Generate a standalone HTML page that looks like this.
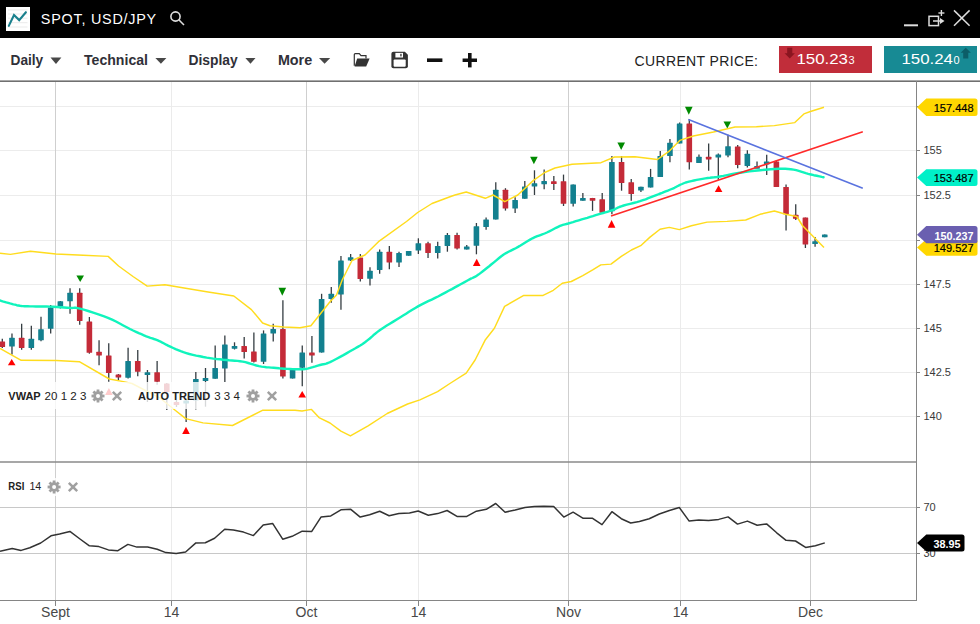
<!DOCTYPE html>
<html><head><meta charset="utf-8">
<style>
*{margin:0;padding:0;box-sizing:border-box}
html,body{width:980px;height:624px;overflow:hidden;background:#fff;font-family:"Liberation Sans",sans-serif}
#hdr{position:absolute;left:0;top:0;width:980px;height:38px;background:#000}
#tb{position:absolute;left:0;top:38px;width:980px;height:42px;background:#fff}
#tbline{position:absolute;left:0;top:80px;width:980px;height:2px;background:linear-gradient(#a8a8a8 0,#a8a8a8 50%,#707070 50%,#707070 100%)}
.t{position:absolute;white-space:nowrap}
svg{position:absolute;left:0;top:0}
</style></head><body>
<div id="hdr"></div>
<div id="tb"></div>
<div id="tbline"></div>
<svg width="980" height="624" viewBox="0 0 980 624" font-family="'Liberation Sans', sans-serif">
<!-- header -->
<rect x="6" y="7" width="24" height="24" fill="#fff"/>
<g stroke="#ebebeb" stroke-width="1"><line x1="8" y1="10" x2="27.5" y2="10"/><line x1="8" y1="14" x2="27.5" y2="14"/><line x1="8" y1="18.2" x2="27.5" y2="18.2"/><line x1="8" y1="22.7" x2="27.5" y2="22.7"/><line x1="8" y1="27" x2="27.5" y2="27"/></g>
<polyline points="8.8,25.9 14,15 19.2,20.1 25.9,12.2" fill="none" stroke="#1a808d" stroke-width="2.1" stroke-linecap="round"/>
<text x="40.8" y="24" font-size="14.4" fill="#fff" textLength="115.4" lengthAdjust="spacing">SPOT, USD/JPY</text>
<g stroke="#ddd" fill="none" stroke-width="1.6"><circle cx="175.5" cy="16.5" r="4.6"/><line x1="178.8" y1="19.8" x2="184" y2="25"/></g>
<g stroke="#ddd" fill="none"><line x1="904" y1="25.3" x2="918" y2="25.3" stroke-width="2"/>
<rect x="929" y="16.3" width="9.5" height="9.3" stroke-width="1.5"/><line x1="933" y1="21" x2="942" y2="21" stroke-width="1.5"/>
<line x1="941.4" y1="10" x2="941.4" y2="16" stroke-width="1.4"/><line x1="938.4" y1="13" x2="944.4" y2="13" stroke-width="1.4"/>
<line x1="954" y1="10.4" x2="969.6" y2="25.8" stroke-width="1.5"/><line x1="969.6" y1="10.4" x2="954" y2="25.8" stroke-width="1.5"/></g>
<polygon points="940,18 944.5,21 940,24" fill="#ddd"/>
<!-- toolbar -->
<g font-size="14" font-weight="bold" fill="#303038">
<text x="10.5" y="64.7" textLength="32.7" lengthAdjust="spacingAndGlyphs">Daily</text><text x="84" y="64.7" textLength="64" lengthAdjust="spacingAndGlyphs">Technical</text><text x="188.5" y="64.7" textLength="49.2" lengthAdjust="spacingAndGlyphs">Display</text><text x="277.9" y="64.7" textLength="34.3" lengthAdjust="spacingAndGlyphs">More</text></g>
<g fill="#484848"><polygon points="50.5,57.6 61.4,57.6 55.95,64"/><polygon points="155.4,58 166.4,58 160.9,63.7"/><polygon points="245.4,58 255.5,58 250.45,63.7"/><polygon points="319,58 330.2,58 324.6,63.7"/></g>
<path d="M354.3,65.8 L354.3,54.6 Q354.3,53.6 355.3,53.6 L359.3,53.6 L361,55.6 L366,55.6 L366,58.4" fill="none" stroke="#333" stroke-width="1.2"/>
<polygon points="357.2,58.6 369.6,58.6 366.2,66.4 354.6,66.4" fill="#333"/>
<path d="M393.4,51.8 L404.9,51.8 L407.9,54.8 L407.9,66.2 Q407.9,68.2 405.9,68.2 L393.4,68.2 Q391.4,68.2 391.4,66.2 L391.4,53.8 Q391.4,51.8 393.4,51.8 Z" fill="#333"/>
<rect x="395.4" y="52.9" width="7.6" height="4.6" fill="#fff"/><rect x="400.3" y="53.8" width="1.3" height="2.6" fill="#333"/>
<rect x="393.6" y="59.6" width="12.1" height="7.2" rx="1" fill="#fff"/>

<rect x="427" y="58.4" width="15.4" height="3.6" fill="#111"/>
<rect x="462.6" y="58.5" width="14.4" height="3.5" fill="#111"/><rect x="468" y="53" width="3.6" height="14.4" fill="#111"/>
<text x="634.5" y="66" font-size="14" fill="#222" textLength="123.5" lengthAdjust="spacing">CURRENT PRICE:</text>
<rect x="779" y="46" width="93" height="27" fill="#c12d3a"/>
<polygon points="787.2,47.7 792.3,47.7 792.3,53.3 794.9,53.3 789.75,58.4 784.6,53.3 787.2,53.3" fill="#8b1520"/>
<text x="796.4" y="64" font-size="15" fill="#fff" textLength="51.6" lengthAdjust="spacingAndGlyphs">150.23</text><text x="848.5" y="64" font-size="10" fill="#fff" textLength="6.1" lengthAdjust="spacingAndGlyphs">3</text>
<rect x="884" y="46" width="93" height="27" fill="#178a94"/>
<polygon points="963.2,58.4 968.3,58.4 968.3,52.8 970.9,52.8 965.75,47.7 960.6,52.8 963.2,52.8" fill="#0c5e68"/>
<text x="901.4" y="64" font-size="15" fill="#fff" textLength="51.6" lengthAdjust="spacingAndGlyphs">150.24</text><text x="953.5" y="64" font-size="10" fill="#fff" textLength="6.1" lengthAdjust="spacingAndGlyphs">0</text>
<line x1="0" y1="106.5" x2="916" y2="106.5" stroke="#ececec" stroke-width="1"/>
<line x1="0" y1="150.5" x2="916" y2="150.5" stroke="#ececec" stroke-width="1"/>
<line x1="0" y1="195.5" x2="916" y2="195.5" stroke="#ececec" stroke-width="1"/>
<line x1="0" y1="240.5" x2="916" y2="240.5" stroke="#ececec" stroke-width="1"/>
<line x1="0" y1="284.5" x2="916" y2="284.5" stroke="#ececec" stroke-width="1"/>
<line x1="0" y1="328.5" x2="916" y2="328.5" stroke="#ececec" stroke-width="1"/>
<line x1="0" y1="372.5" x2="916" y2="372.5" stroke="#ececec" stroke-width="1"/>
<line x1="0" y1="416.5" x2="916" y2="416.5" stroke="#ececec" stroke-width="1"/>
<line x1="55.5" y1="82" x2="55.5" y2="600" stroke="#cfcfcf" stroke-width="1"/>
<line x1="171.5" y1="82" x2="171.5" y2="600" stroke="#ebebeb" stroke-width="1"/>
<line x1="306.5" y1="82" x2="306.5" y2="600" stroke="#cfcfcf" stroke-width="1"/>
<line x1="418.5" y1="82" x2="418.5" y2="600" stroke="#ebebeb" stroke-width="1"/>
<line x1="568.5" y1="82" x2="568.5" y2="600" stroke="#cfcfcf" stroke-width="1"/>
<line x1="680.5" y1="82" x2="680.5" y2="600" stroke="#ebebeb" stroke-width="1"/>
<line x1="810.5" y1="82" x2="810.5" y2="600" stroke="#cfcfcf" stroke-width="1"/>
<line x1="0" y1="507.5" x2="916" y2="507.5" stroke="#c8c8c8" stroke-width="1"/>
<line x1="0" y1="553.5" x2="916" y2="553.5" stroke="#c8c8c8" stroke-width="1"/>
<line x1="2.30" y1="338.8" x2="2.30" y2="348.0" stroke="#353d42" stroke-width="1.3"/>
<rect x="-0.50" y="341.5" width="5.6" height="5.5" rx="0.5" fill="#c42b38"/>
<line x1="11.98" y1="333.5" x2="11.98" y2="354.6" stroke="#353d42" stroke-width="1.3"/>
<rect x="9.18" y="337.7" width="5.6" height="8.8" rx="0.5" fill="#13808f"/>
<line x1="21.65" y1="323.8" x2="21.65" y2="349.8" stroke="#353d42" stroke-width="1.3"/>
<rect x="18.85" y="337.7" width="5.6" height="10.2" rx="0.5" fill="#c42b38"/>
<line x1="31.33" y1="325.8" x2="31.33" y2="349.8" stroke="#353d42" stroke-width="1.3"/>
<rect x="28.53" y="338.8" width="5.6" height="9.1" rx="0.5" fill="#13808f"/>
<line x1="41.00" y1="316.7" x2="41.00" y2="341.2" stroke="#353d42" stroke-width="1.3"/>
<rect x="38.20" y="329.2" width="5.6" height="11.0" rx="0.5" fill="#13808f"/>
<line x1="50.68" y1="305.0" x2="50.68" y2="333.5" stroke="#353d42" stroke-width="1.3"/>
<rect x="47.88" y="307.5" width="5.6" height="21.2" rx="0.5" fill="#13808f"/>
<line x1="60.36" y1="301.0" x2="60.36" y2="308.5" stroke="#353d42" stroke-width="1.3"/>
<rect x="57.56" y="301.3" width="5.6" height="5.2" rx="0.5" fill="#13808f"/>
<line x1="70.03" y1="288.3" x2="70.03" y2="313.8" stroke="#353d42" stroke-width="1.3"/>
<rect x="67.23" y="292.7" width="5.6" height="8.5" rx="0.5" fill="#13808f"/>
<line x1="79.71" y1="288.3" x2="79.71" y2="324.8" stroke="#353d42" stroke-width="1.3"/>
<rect x="76.91" y="292.7" width="5.6" height="28.3" rx="0.5" fill="#c42b38"/>
<line x1="89.38" y1="317.0" x2="89.38" y2="353.7" stroke="#353d42" stroke-width="1.3"/>
<rect x="86.58" y="321.5" width="5.6" height="31.2" rx="0.5" fill="#c42b38"/>
<line x1="99.06" y1="340.2" x2="99.06" y2="365.2" stroke="#353d42" stroke-width="1.3"/>
<rect x="96.26" y="351.7" width="5.6" height="3.9" rx="0.5" fill="#c42b38"/>
<line x1="108.74" y1="343.3" x2="108.74" y2="381.8" stroke="#353d42" stroke-width="1.3"/>
<rect x="105.94" y="355.6" width="5.6" height="17.3" rx="0.5" fill="#c42b38"/>
<line x1="118.41" y1="374.0" x2="118.41" y2="380.0" stroke="#353d42" stroke-width="1.3"/>
<rect x="115.61" y="374.4" width="5.6" height="3.0" rx="0.5" fill="#c42b38"/>
<line x1="128.09" y1="347.8" x2="128.09" y2="378.5" stroke="#353d42" stroke-width="1.3"/>
<rect x="125.29" y="361.0" width="5.6" height="16.8" rx="0.5" fill="#13808f"/>
<line x1="137.76" y1="350.0" x2="137.76" y2="376.2" stroke="#353d42" stroke-width="1.3"/>
<rect x="134.96" y="361.0" width="5.6" height="10.7" rx="0.5" fill="#c42b38"/>
<line x1="147.44" y1="370.0" x2="147.44" y2="402.0" stroke="#353d42" stroke-width="1.3"/>
<rect x="144.64" y="372.2" width="5.6" height="2.9" rx="0.5" fill="#13808f"/>
<line x1="157.12" y1="361.0" x2="157.12" y2="384.8" stroke="#353d42" stroke-width="1.3"/>
<rect x="154.32" y="372.2" width="5.6" height="9.6" rx="0.5" fill="#c42b38"/>
<line x1="166.79" y1="383.0" x2="166.79" y2="410.0" stroke="#353d42" stroke-width="1.3"/>
<rect x="163.99" y="383.4" width="5.6" height="8.6" rx="0.5" fill="#c42b38"/>
<line x1="176.47" y1="400.0" x2="176.47" y2="407.0" stroke="#353d42" stroke-width="1.3"/>
<rect x="173.67" y="402.0" width="5.6" height="3.0" rx="0.5" fill="#c42b38"/>
<line x1="186.14" y1="398.0" x2="186.14" y2="422.0" stroke="#353d42" stroke-width="1.3"/>
<rect x="183.34" y="400.4" width="5.6" height="3.2" rx="0.5" fill="#13808f"/>
<line x1="195.82" y1="372.0" x2="195.82" y2="409.6" stroke="#353d42" stroke-width="1.3"/>
<rect x="193.02" y="379.0" width="5.6" height="21.4" rx="0.5" fill="#13808f"/>
<line x1="205.50" y1="368.0" x2="205.50" y2="406.7" stroke="#353d42" stroke-width="1.3"/>
<rect x="202.70" y="378.0" width="5.6" height="3.0" rx="0.5" fill="#13808f"/>
<line x1="215.17" y1="345.5" x2="215.17" y2="378.7" stroke="#353d42" stroke-width="1.3"/>
<rect x="212.37" y="367.9" width="5.6" height="10.8" rx="0.5" fill="#13808f"/>
<line x1="224.85" y1="335.6" x2="224.85" y2="382.0" stroke="#353d42" stroke-width="1.3"/>
<rect x="222.05" y="344.6" width="5.6" height="24.0" rx="0.5" fill="#13808f"/>
<line x1="234.52" y1="342.3" x2="234.52" y2="349.5" stroke="#353d42" stroke-width="1.3"/>
<rect x="231.72" y="345.9" width="5.6" height="2.9" rx="0.5" fill="#13808f"/>
<line x1="244.20" y1="337.0" x2="244.20" y2="358.6" stroke="#353d42" stroke-width="1.3"/>
<rect x="241.40" y="345.9" width="5.6" height="6.1" rx="0.5" fill="#c42b38"/>
<line x1="253.88" y1="332.6" x2="253.88" y2="362.5" stroke="#353d42" stroke-width="1.3"/>
<rect x="251.08" y="351.4" width="5.6" height="10.3" rx="0.5" fill="#c42b38"/>
<line x1="263.55" y1="330.4" x2="263.55" y2="364.0" stroke="#353d42" stroke-width="1.3"/>
<rect x="260.75" y="333.6" width="5.6" height="28.1" rx="0.5" fill="#13808f"/>
<line x1="273.23" y1="323.7" x2="273.23" y2="341.6" stroke="#353d42" stroke-width="1.3"/>
<rect x="270.43" y="328.9" width="5.6" height="4.5" rx="0.5" fill="#13808f"/>
<line x1="282.90" y1="300.2" x2="282.90" y2="378.6" stroke="#353d42" stroke-width="1.3"/>
<rect x="280.10" y="328.9" width="5.6" height="47.5" rx="0.5" fill="#c42b38"/>
<line x1="292.58" y1="368.0" x2="292.58" y2="378.5" stroke="#353d42" stroke-width="1.3"/>
<rect x="289.78" y="368.2" width="5.6" height="10.2" rx="0.5" fill="#13808f"/>
<line x1="302.26" y1="345.5" x2="302.26" y2="386.3" stroke="#353d42" stroke-width="1.3"/>
<rect x="299.46" y="352.4" width="5.6" height="15.4" rx="0.5" fill="#13808f"/>
<line x1="311.93" y1="336.0" x2="311.93" y2="362.8" stroke="#353d42" stroke-width="1.3"/>
<rect x="309.13" y="352.4" width="5.6" height="3.0" rx="0.5" fill="#c42b38"/>
<line x1="321.61" y1="293.8" x2="321.61" y2="352.6" stroke="#353d42" stroke-width="1.3"/>
<rect x="318.81" y="299.0" width="5.6" height="53.6" rx="0.5" fill="#13808f"/>
<line x1="331.28" y1="287.0" x2="331.28" y2="302.8" stroke="#353d42" stroke-width="1.3"/>
<rect x="328.48" y="293.8" width="5.6" height="5.2" rx="0.5" fill="#13808f"/>
<line x1="340.96" y1="255.9" x2="340.96" y2="309.7" stroke="#353d42" stroke-width="1.3"/>
<rect x="338.16" y="260.5" width="5.6" height="33.9" rx="0.5" fill="#13808f"/>
<line x1="350.64" y1="254.0" x2="350.64" y2="261.0" stroke="#353d42" stroke-width="1.3"/>
<rect x="347.84" y="257.2" width="5.6" height="3.3" rx="0.5" fill="#13808f"/>
<line x1="360.31" y1="254.0" x2="360.31" y2="281.5" stroke="#353d42" stroke-width="1.3"/>
<rect x="357.51" y="257.4" width="5.6" height="21.6" rx="0.5" fill="#c42b38"/>
<line x1="369.99" y1="267.2" x2="369.99" y2="285.5" stroke="#353d42" stroke-width="1.3"/>
<rect x="367.19" y="270.8" width="5.6" height="7.9" rx="0.5" fill="#13808f"/>
<line x1="379.66" y1="249.5" x2="379.66" y2="273.7" stroke="#353d42" stroke-width="1.3"/>
<rect x="376.86" y="251.7" width="5.6" height="18.3" rx="0.5" fill="#13808f"/>
<line x1="389.34" y1="246.0" x2="389.34" y2="269.2" stroke="#353d42" stroke-width="1.3"/>
<rect x="386.54" y="251.7" width="5.6" height="10.8" rx="0.5" fill="#c42b38"/>
<line x1="399.02" y1="251.7" x2="399.02" y2="267.0" stroke="#353d42" stroke-width="1.3"/>
<rect x="396.22" y="252.9" width="5.6" height="9.6" rx="0.5" fill="#13808f"/>
<line x1="408.69" y1="250.9" x2="408.69" y2="255.8" stroke="#353d42" stroke-width="1.3"/>
<rect x="405.89" y="250.9" width="5.6" height="4.9" rx="0.5" fill="#13808f"/>
<line x1="418.37" y1="238.3" x2="418.37" y2="254.0" stroke="#353d42" stroke-width="1.3"/>
<rect x="415.57" y="243.2" width="5.6" height="7.4" rx="0.5" fill="#13808f"/>
<line x1="428.04" y1="241.7" x2="428.04" y2="258.0" stroke="#353d42" stroke-width="1.3"/>
<rect x="425.24" y="243.2" width="5.6" height="9.7" rx="0.5" fill="#c42b38"/>
<line x1="437.72" y1="241.7" x2="437.72" y2="258.5" stroke="#353d42" stroke-width="1.3"/>
<rect x="434.92" y="246.0" width="5.6" height="6.9" rx="0.5" fill="#13808f"/>
<line x1="447.40" y1="233.0" x2="447.40" y2="251.7" stroke="#353d42" stroke-width="1.3"/>
<rect x="444.60" y="235.0" width="5.6" height="11.0" rx="0.5" fill="#13808f"/>
<line x1="457.07" y1="232.7" x2="457.07" y2="249.5" stroke="#353d42" stroke-width="1.3"/>
<rect x="454.27" y="235.0" width="5.6" height="13.5" rx="0.5" fill="#c42b38"/>
<line x1="466.75" y1="245.0" x2="466.75" y2="249.4" stroke="#353d42" stroke-width="1.3"/>
<rect x="463.95" y="246.5" width="5.6" height="2.9" rx="0.5" fill="#13808f"/>
<line x1="476.42" y1="223.0" x2="476.42" y2="254.3" stroke="#353d42" stroke-width="1.3"/>
<rect x="473.62" y="226.3" width="5.6" height="19.5" rx="0.5" fill="#13808f"/>
<line x1="486.10" y1="217.4" x2="486.10" y2="229.7" stroke="#353d42" stroke-width="1.3"/>
<rect x="483.30" y="219.6" width="5.6" height="7.4" rx="0.5" fill="#13808f"/>
<line x1="495.78" y1="182.2" x2="495.78" y2="219.6" stroke="#353d42" stroke-width="1.3"/>
<rect x="492.98" y="189.8" width="5.6" height="29.8" rx="0.5" fill="#13808f"/>
<line x1="505.45" y1="188.2" x2="505.45" y2="210.6" stroke="#353d42" stroke-width="1.3"/>
<rect x="502.65" y="189.8" width="5.6" height="18.6" rx="0.5" fill="#c42b38"/>
<line x1="515.13" y1="197.2" x2="515.13" y2="212.9" stroke="#353d42" stroke-width="1.3"/>
<rect x="512.33" y="200.0" width="5.6" height="8.4" rx="0.5" fill="#13808f"/>
<line x1="524.80" y1="181.0" x2="524.80" y2="198.7" stroke="#353d42" stroke-width="1.3"/>
<rect x="522.00" y="186.6" width="5.6" height="12.1" rx="0.5" fill="#13808f"/>
<line x1="534.48" y1="170.3" x2="534.48" y2="195.0" stroke="#353d42" stroke-width="1.3"/>
<rect x="531.68" y="183.3" width="5.6" height="3.1" rx="0.5" fill="#13808f"/>
<line x1="544.16" y1="169.6" x2="544.16" y2="189.3" stroke="#353d42" stroke-width="1.3"/>
<rect x="541.36" y="181.0" width="5.6" height="3.2" rx="0.5" fill="#13808f"/>
<line x1="553.83" y1="176.0" x2="553.83" y2="190.0" stroke="#353d42" stroke-width="1.3"/>
<rect x="551.03" y="181.2" width="5.6" height="2.8" rx="0.5" fill="#c42b38"/>
<line x1="563.51" y1="174.6" x2="563.51" y2="206.0" stroke="#353d42" stroke-width="1.3"/>
<rect x="560.71" y="181.3" width="5.6" height="22.4" rx="0.5" fill="#c42b38"/>
<line x1="573.18" y1="184.4" x2="573.18" y2="206.4" stroke="#353d42" stroke-width="1.3"/>
<rect x="570.38" y="184.4" width="5.6" height="19.3" rx="0.5" fill="#13808f"/>
<line x1="582.86" y1="193.0" x2="582.86" y2="200.8" stroke="#353d42" stroke-width="1.3"/>
<rect x="580.06" y="197.9" width="5.6" height="2.9" rx="0.5" fill="#13808f"/>
<line x1="592.54" y1="197.9" x2="592.54" y2="210.9" stroke="#353d42" stroke-width="1.3"/>
<rect x="589.74" y="197.9" width="5.6" height="2.9" rx="0.5" fill="#c42b38"/>
<line x1="602.21" y1="193.0" x2="602.21" y2="212.7" stroke="#353d42" stroke-width="1.3"/>
<rect x="599.41" y="199.2" width="5.6" height="13.5" rx="0.5" fill="#c42b38"/>
<line x1="611.89" y1="156.0" x2="611.89" y2="214.3" stroke="#353d42" stroke-width="1.3"/>
<rect x="609.09" y="162.0" width="5.6" height="49.3" rx="0.5" fill="#13808f"/>
<line x1="621.56" y1="156.0" x2="621.56" y2="190.7" stroke="#353d42" stroke-width="1.3"/>
<rect x="618.76" y="162.0" width="5.6" height="20.9" rx="0.5" fill="#c42b38"/>
<line x1="631.24" y1="179.0" x2="631.24" y2="200.8" stroke="#353d42" stroke-width="1.3"/>
<rect x="628.44" y="182.2" width="5.6" height="11.8" rx="0.5" fill="#c42b38"/>
<line x1="640.92" y1="186.8" x2="640.92" y2="192.0" stroke="#353d42" stroke-width="1.3"/>
<rect x="638.12" y="186.8" width="5.6" height="3.7" rx="0.5" fill="#13808f"/>
<line x1="650.59" y1="168.9" x2="650.59" y2="187.5" stroke="#353d42" stroke-width="1.3"/>
<rect x="647.79" y="177.0" width="5.6" height="10.5" rx="0.5" fill="#13808f"/>
<line x1="660.27" y1="151.0" x2="660.27" y2="177.0" stroke="#353d42" stroke-width="1.3"/>
<rect x="657.47" y="156.0" width="5.6" height="21.0" rx="0.5" fill="#13808f"/>
<line x1="669.94" y1="138.9" x2="669.94" y2="162.2" stroke="#353d42" stroke-width="1.3"/>
<rect x="667.14" y="142.7" width="5.6" height="13.3" rx="0.5" fill="#13808f"/>
<line x1="679.62" y1="122.5" x2="679.62" y2="143.4" stroke="#353d42" stroke-width="1.3"/>
<rect x="676.82" y="123.6" width="5.6" height="19.8" rx="0.5" fill="#13808f"/>
<line x1="689.30" y1="119.0" x2="689.30" y2="169.6" stroke="#353d42" stroke-width="1.3"/>
<rect x="686.50" y="123.6" width="5.6" height="38.6" rx="0.5" fill="#c42b38"/>
<line x1="698.97" y1="154.6" x2="698.97" y2="162.9" stroke="#353d42" stroke-width="1.3"/>
<rect x="696.17" y="156.8" width="5.6" height="6.1" rx="0.5" fill="#13808f"/>
<line x1="708.65" y1="143.4" x2="708.65" y2="170.7" stroke="#353d42" stroke-width="1.3"/>
<rect x="705.85" y="156.8" width="5.6" height="2.8" rx="0.5" fill="#c42b38"/>
<line x1="718.32" y1="153.5" x2="718.32" y2="179.7" stroke="#353d42" stroke-width="1.3"/>
<rect x="715.52" y="154.6" width="5.6" height="2.8" rx="0.5" fill="#13808f"/>
<line x1="728.00" y1="134.8" x2="728.00" y2="157.3" stroke="#353d42" stroke-width="1.3"/>
<rect x="725.20" y="146.2" width="5.6" height="9.3" rx="0.5" fill="#13808f"/>
<line x1="737.68" y1="145.0" x2="737.68" y2="168.3" stroke="#353d42" stroke-width="1.3"/>
<rect x="734.88" y="146.5" width="5.6" height="18.4" rx="0.5" fill="#c42b38"/>
<line x1="747.35" y1="150.3" x2="747.35" y2="167.6" stroke="#353d42" stroke-width="1.3"/>
<rect x="744.55" y="153.7" width="5.6" height="12.3" rx="0.5" fill="#13808f"/>
<line x1="757.03" y1="161.5" x2="757.03" y2="168.3" stroke="#353d42" stroke-width="1.3"/>
<rect x="754.23" y="166.0" width="5.6" height="2.8" rx="0.5" fill="#13808f"/>
<line x1="766.70" y1="154.8" x2="766.70" y2="175.0" stroke="#353d42" stroke-width="1.3"/>
<rect x="763.90" y="161.5" width="5.6" height="2.9" rx="0.5" fill="#13808f"/>
<line x1="776.38" y1="160.4" x2="776.38" y2="186.9" stroke="#353d42" stroke-width="1.3"/>
<rect x="773.58" y="161.5" width="5.6" height="25.4" rx="0.5" fill="#c42b38"/>
<line x1="786.06" y1="184.6" x2="786.06" y2="230.4" stroke="#353d42" stroke-width="1.3"/>
<rect x="783.26" y="186.9" width="5.6" height="27.4" rx="0.5" fill="#c42b38"/>
<line x1="795.73" y1="204.2" x2="795.73" y2="219.9" stroke="#353d42" stroke-width="1.3"/>
<rect x="792.93" y="214.7" width="5.6" height="4.1" rx="0.5" fill="#c42b38"/>
<line x1="805.41" y1="217.6" x2="805.41" y2="248.0" stroke="#353d42" stroke-width="1.3"/>
<rect x="802.61" y="217.6" width="5.6" height="27.0" rx="0.5" fill="#c42b38"/>
<line x1="815.08" y1="237.0" x2="815.08" y2="246.8" stroke="#353d42" stroke-width="1.3"/>
<rect x="812.28" y="241.2" width="5.6" height="2.8" rx="0.5" fill="#13808f"/>
<line x1="824.76" y1="234.5" x2="824.76" y2="237.2" stroke="#353d42" stroke-width="1.3"/>
<rect x="821.96" y="234.5" width="5.6" height="2.8" rx="0.5" fill="#13808f"/>
<polygon points="7.9,365.3 15.5,365.3 11.7,359" fill="#ff0000"/>
<polygon points="105.1,395 112.7,395 108.9,388" fill="#ff0000"/>
<polygon points="182.2,433.9 189.8,433.9 186.0,426.7" fill="#ff0000"/>
<polygon points="298.4,397.5 306.0,397.5 302.2,391" fill="#ff0000"/>
<polygon points="472.9,266 480.5,266 476.7,258.8" fill="#ff0000"/>
<polygon points="607.8,227.7 615.4,227.7 611.6,219.9" fill="#ff0000"/>
<polygon points="714.8,192 722.4,192 718.6,185.3" fill="#ff0000"/>
<polygon points="76.4,275.4 84.0,275.4 80.2,282" fill="#008a00"/>
<polygon points="278.5,287.8 286.1,287.8 282.3,295.7" fill="#008a00"/>
<polygon points="530.1,156.8 537.7,156.8 533.9,164.2" fill="#008a00"/>
<polygon points="617.4,142.5 625.0,142.5 621.2,150" fill="#008a00"/>
<polygon points="685.0,106.8 692.6,106.8 688.8,114.7" fill="#008a00"/>
<polygon points="723.5,121.4 731.1,121.4 727.3,128.6" fill="#008a00"/>
<polyline points="0.0,253.2 10.4,254.4 30.4,251.3 56.0,254.0 83.3,255.3 108.2,256.4 118.6,266.0 133.0,276.5 147.2,286.1 164.9,284.8 184.1,288.0 208.1,292.0 233.8,296.0 251.4,309.6 262.6,323.0 270.0,325.7 283.7,327.0 300.0,327.7 310.9,325.8 330.0,301.8 336.5,295.0 342.2,280.0 352.0,260.5 365.0,255.0 378.5,241.7 406.5,221.5 417.7,212.5 432.0,203.5 450.0,196.8 455.0,195.0 466.2,192.0 485.3,198.3 493.0,195.0 504.8,201.7 517.8,195.0 533.5,180.4 544.7,172.5 555.0,168.0 572.0,164.3 601.0,162.7 614.5,157.0 635.0,156.8 657.4,159.5 668.6,151.7 679.8,140.4 693.3,136.0 713.5,132.0 735.0,127.0 756.4,126.7 774.4,125.6 794.8,122.6 803.9,113.9 810.4,111.5 824.0,107.2" fill="none" stroke="#ffdc1e" stroke-width="1.45" stroke-linejoin="round"/>
<polyline points="0.0,348.5 21.2,360.3 56.4,360.5 79.3,361.7 109.3,379.0 123.4,381.6 132.0,383.5 159.7,397.8 173.6,409.0 185.7,418.6 203.0,422.9 232.5,425.5 262.9,410.2 295.0,410.2 302.0,411.0 311.5,409.4 319.0,417.6 330.0,423.0 340.9,431.2 350.4,435.9 368.1,425.8 387.2,413.5 407.6,404.0 419.9,399.9 437.6,391.7 449.9,383.5 466.2,373.2 475.1,360.0 485.4,339.7 494.4,328.2 504.6,306.4 523.8,295.4 543.1,295.4 553.3,290.3 562.3,283.3 571.3,281.5 582.8,275.6 593.1,269.7 600.8,264.9 611.0,264.1 621.3,256.4 631.4,250.0 640.7,245.7 650.0,237.1 660.0,229.3 669.3,227.4 679.3,229.6 691.4,225.7 707.1,222.1 727.1,221.4 745.7,220.0 760.0,214.3 774.4,211.0 785.6,214.3 796.8,216.5 802.4,225.5 824.0,247.5" fill="none" stroke="#ffdc1e" stroke-width="1.45" stroke-linejoin="round"/>
<polyline points="0.0,300.5 1.1,300.8 2.6,301.3 4.4,301.8 6.3,302.4 8.2,302.9 10.0,303.4 11.7,303.8 13.3,304.3 15.0,304.7 16.7,305.2 18.3,305.5 20.0,305.8 21.6,306.0 23.0,306.1 24.4,306.2 25.9,306.3 27.8,306.3 30.0,306.4 32.8,306.4 35.9,306.5 39.4,306.5 43.0,306.5 46.6,306.5 50.0,306.6 53.4,306.8 57.0,307.0 60.6,307.2 64.1,307.5 67.2,307.7 70.0,307.9 72.0,308.0 73.4,307.9 74.5,307.8 75.7,307.8 77.4,308.1 80.0,308.7 83.7,309.7 88.2,311.0 93.2,312.6 98.4,314.3 103.5,316.1 108.0,317.8 112.1,319.6 116.0,321.5 119.7,323.5 123.3,325.5 126.7,327.3 130.0,329.0 133.1,330.5 136.0,331.8 138.8,333.1 141.4,334.2 143.9,335.3 146.3,336.3 148.5,337.1 150.4,337.8 152.3,338.4 154.0,339.0 155.9,339.6 157.8,340.4 159.9,341.3 161.9,342.4 164.1,343.5 166.2,344.7 168.5,345.8 170.8,346.9 173.2,348.0 175.6,349.1 178.1,350.1 180.7,351.2 183.4,352.2 186.3,353.1 189.4,354.0 192.8,354.8 196.2,355.6 199.8,356.3 203.3,357.0 206.7,357.6 210.0,358.1 213.4,358.6 216.8,359.0 220.0,359.3 223.2,359.7 226.3,360.0 229.2,360.3 232.0,360.5 234.7,360.7 237.4,360.9 240.0,361.2 242.7,361.6 245.4,362.2 248.2,363.0 251.0,363.8 253.7,364.7 256.4,365.5 259.0,366.1 261.5,366.6 264.0,366.9 266.3,367.2 268.7,367.4 271.2,367.6 273.7,367.8 276.3,368.0 279.1,368.3 281.8,368.5 284.6,368.7 287.3,368.9 290.0,369.0 292.6,369.1 295.1,369.2 297.6,369.3 300.0,369.3 302.5,369.2 305.0,369.0 307.6,368.6 310.2,367.9 312.8,367.2 315.4,366.4 317.8,365.6 320.0,365.0 321.9,364.5 323.4,364.2 324.7,364.0 326.2,363.6 327.9,363.0 330.1,362.1 332.9,360.7 336.2,359.0 339.7,357.1 343.4,355.1 346.9,353.1 350.0,351.3 352.8,349.7 355.4,348.3 357.8,346.9 360.2,345.5 362.6,344.0 365.0,342.3 367.4,340.4 369.8,338.5 372.2,336.4 374.6,334.2 377.2,332.1 380.0,330.0 383.1,327.9 386.4,325.8 389.8,323.7 393.3,321.6 396.7,319.5 400.0,317.5 403.1,315.6 406.1,313.7 409.0,311.8 411.9,310.0 414.9,308.2 418.0,306.4 421.3,304.6 424.7,302.9 428.2,301.2 431.7,299.6 435.1,297.9 438.5,296.2 441.9,294.4 445.3,292.6 448.6,290.8 451.9,289.1 454.9,287.4 457.7,285.9 460.2,284.5 462.5,283.2 464.6,282.1 466.6,281.0 468.4,280.0 470.0,279.1 471.4,278.4 472.4,278.0 473.3,277.6 474.2,277.2 475.3,276.7 476.7,275.8 478.4,274.6 480.4,273.1 482.5,271.5 484.7,269.8 486.9,268.0 489.2,266.2 491.5,264.3 493.9,262.3 496.3,260.3 498.8,258.3 501.3,256.3 503.7,254.6 506.1,253.1 508.5,251.8 510.9,250.6 513.3,249.4 515.7,248.2 518.1,246.9 520.5,245.5 522.9,244.0 525.3,242.5 527.7,241.0 530.1,239.6 532.5,238.3 534.9,237.2 537.3,236.2 539.8,235.3 542.2,234.4 544.6,233.5 546.9,232.5 549.2,231.4 551.5,230.2 553.8,229.0 556.0,227.8 558.1,226.8 560.0,225.9 561.6,225.3 562.8,224.9 563.9,224.6 565.0,224.3 566.4,224.0 568.2,223.5 570.4,222.8 573.0,222.1 575.8,221.2 578.8,220.3 581.7,219.4 584.5,218.6 587.3,217.8 590.1,216.9 592.9,216.1 595.7,215.2 598.3,214.4 600.8,213.7 603.1,213.0 605.3,212.4 607.4,211.8 609.4,211.2 611.2,210.6 613.0,210.0 614.5,209.4 615.6,208.8 616.7,208.2 617.8,207.6 619.3,207.0 621.2,206.3 623.7,205.5 626.8,204.7 630.1,203.9 633.5,203.0 636.9,202.1 640.0,201.2 642.9,200.2 645.6,199.3 648.3,198.2 651.0,197.2 653.6,196.2 656.3,195.1 659.1,194.0 662.1,192.9 665.0,191.7 667.8,190.6 670.4,189.5 672.7,188.6 674.5,187.8 676.0,187.0 677.3,186.3 678.4,185.7 679.5,185.1 680.8,184.5 682.1,184.0 683.2,183.5 684.4,183.0 685.7,182.5 687.2,182.1 689.0,181.6 691.3,181.1 693.9,180.5 696.7,179.9 699.7,179.4 702.6,178.9 705.3,178.4 707.7,178.0 710.0,177.8 712.1,177.5 714.4,177.3 717.0,177.0 720.0,176.5 723.4,175.9 727.2,175.1 731.3,174.3 735.5,173.5 740.0,172.7 744.5,172.0 749.4,171.4 754.7,170.8 760.2,170.2 765.6,169.7 770.6,169.3 775.1,169.0 778.9,168.8 782.3,168.8 785.3,168.8 788.1,169.0 790.8,169.2 793.5,169.6 796.2,170.1 798.7,170.8 801.0,171.6 803.4,172.4 805.8,173.2 808.2,173.9 810.9,174.5 813.8,175.2 816.8,175.8 819.5,176.4 821.8,176.9 823.5,177.2" fill="none" stroke="#10f4bc" stroke-width="2.4" stroke-linejoin="round" stroke-linecap="round"/>
<line x1="611" y1="216.1" x2="862.8" y2="131.8" stroke="#ff2a2a" stroke-width="1.6"/>
<line x1="688.4" y1="119.6" x2="862.8" y2="188.3" stroke="#5a73df" stroke-width="1.6"/>
<polyline points="0.0,551.2 12.2,548.5 21.1,550.4 29.8,547.7 40.7,543.0 51.0,535.8 59.6,534.1 69.9,531.4 80.0,539.0 89.4,545.8 98.9,546.6 108.4,549.9 117.9,550.7 127.9,544.4 136.9,547.1 147.7,547.1 157.2,549.3 165.9,552.6 176.2,553.4 185.6,552.0 195.9,542.9 205.3,542.7 214.6,538.2 224.7,529.3 233.4,530.0 243.5,532.1 253.4,535.6 263.2,525.1 272.6,523.4 282.7,539.2 292.1,536.3 302.2,531.2 311.6,531.6 321.0,517.1 330.8,515.9 340.9,509.8 350.8,509.3 360.2,517.1 369.6,514.7 379.7,511.2 389.1,515.7 398.9,513.6 409.5,512.9 418.2,511.0 428.3,515.2 437.7,513.6 447.1,510.5 457.0,516.4 466.8,516.4 476.4,511.2 486.3,509.3 495.7,503.5 505.1,512.2 515.2,510.0 525.0,507.5 534.4,506.5 543.8,506.3 553.7,506.5 563.8,517.1 573.1,512.2 583.2,518.3 592.6,518.3 602.0,524.6 611.9,511.7 621.3,518.7 630.7,523.0 639.4,521.5 649.2,518.7 659.3,514.0 669.4,510.5 679.3,507.5 689.2,521.1 698.8,519.9 708.6,520.4 718.7,519.4 728.1,516.9 737.5,524.1 747.4,521.1 757.2,525.3 766.6,523.9 776.7,532.8 786.1,540.3 795.5,541.0 805.6,547.4 815.4,545.7 824.8,542.9" fill="none" stroke="#333" stroke-width="1.5" stroke-linejoin="round"/>
<rect x="0" y="382" width="288" height="27" fill="#fff" fill-opacity="0.8"/>
<rect x="0" y="478" width="86" height="18" fill="#fff" fill-opacity="0.8"/>
<line x1="0" y1="462" x2="916" y2="462" stroke="#8a8a8a" stroke-width="1.4"/>
<line x1="916.5" y1="81" x2="916.5" y2="600" stroke="#858585" stroke-width="1"/>
<line x1="0" y1="600.5" x2="917" y2="600.5" stroke="#858585" stroke-width="1"/>
<line x1="55.5" y1="600" x2="55.5" y2="606" stroke="#858585" stroke-width="1"/>
<line x1="171.5" y1="600" x2="171.5" y2="606" stroke="#858585" stroke-width="1"/>
<line x1="306.5" y1="600" x2="306.5" y2="606" stroke="#858585" stroke-width="1"/>
<line x1="418.5" y1="600" x2="418.5" y2="606" stroke="#858585" stroke-width="1"/>
<line x1="568.5" y1="600" x2="568.5" y2="606" stroke="#858585" stroke-width="1"/>
<line x1="680.5" y1="600" x2="680.5" y2="606" stroke="#858585" stroke-width="1"/>
<line x1="810.5" y1="600" x2="810.5" y2="606" stroke="#858585" stroke-width="1"/>
<line x1="916" y1="150.5" x2="920" y2="150.5" stroke="#858585" stroke-width="1"/>
<text x="923.4" y="153.7" font-size="11" fill="#3a3a3a">155</text>
<line x1="916" y1="195.5" x2="920" y2="195.5" stroke="#858585" stroke-width="1"/>
<text x="923.4" y="198.7" font-size="11" fill="#3a3a3a">152.5</text>
<line x1="916" y1="284.5" x2="920" y2="284.5" stroke="#858585" stroke-width="1"/>
<text x="923.4" y="287.7" font-size="11" fill="#3a3a3a">147.5</text>
<line x1="916" y1="328.5" x2="920" y2="328.5" stroke="#858585" stroke-width="1"/>
<text x="923.4" y="331.7" font-size="11" fill="#3a3a3a">145</text>
<line x1="916" y1="372.5" x2="920" y2="372.5" stroke="#858585" stroke-width="1"/>
<text x="923.4" y="375.7" font-size="11" fill="#3a3a3a">142.5</text>
<line x1="916" y1="416.5" x2="920" y2="416.5" stroke="#858585" stroke-width="1"/>
<text x="923.4" y="419.7" font-size="11" fill="#3a3a3a">140</text>
<line x1="916" y1="507.5" x2="920" y2="507.5" stroke="#858585" stroke-width="1"/>
<text x="923.4" y="510.7" font-size="11" fill="#3a3a3a">70</text>
<line x1="916" y1="553.5" x2="920" y2="553.5" stroke="#858585" stroke-width="1"/>
<text x="923.4" y="556.7" font-size="11" fill="#3a3a3a">30</text>
<line x1="916" y1="106.5" x2="920" y2="106.5" stroke="#858585" stroke-width="1"/>
<line x1="916" y1="240.5" x2="920" y2="240.5" stroke="#858585" stroke-width="1"/>
<text x="55.5" y="617" font-size="14" fill="#484848" text-anchor="middle">Sept</text>
<text x="171.5" y="617" font-size="14" fill="#484848" text-anchor="middle">14</text>
<text x="306.5" y="617" font-size="14" fill="#484848" text-anchor="middle">Oct</text>
<text x="418.5" y="617" font-size="14" fill="#484848" text-anchor="middle">14</text>
<text x="568.5" y="617" font-size="14" fill="#484848" text-anchor="middle">Nov</text>
<text x="680.5" y="617" font-size="14" fill="#484848" text-anchor="middle">14</text>
<text x="810.5" y="617" font-size="14" fill="#484848" text-anchor="middle">Dec</text>
<path d="M917,107.25 L926.3,98.4 L975.0,98.4 Q977.5,98.4 977.5,100.9 L977.5,113.6 Q977.5,116.1 975.0,116.1 L926.3,116.1 Z" fill="#ffd700"/><text x="973.5" y="111.5" font-size="11" fill="#000" stroke="#000" stroke-width="0.2" text-anchor="end">157.448</text>
<path d="M917,177.6 L926.3,169.2 L975.0,169.2 Q977.5,169.2 977.5,171.7 L977.5,183.5 Q977.5,186 975.0,186 L926.3,186 Z" fill="#00f0c8"/><text x="973.5" y="181.9" font-size="11" fill="#000" stroke="#000" stroke-width="0.2" text-anchor="end">153.487</text>
<path d="M917,247.5 L926.3,239.2 L975.0,239.2 Q977.5,239.2 977.5,241.7 L977.5,253.3 Q977.5,255.8 975.0,255.8 L926.3,255.8 Z" fill="#ffd700"/><text x="973.5" y="251.8" font-size="11" fill="#000" stroke="#000" stroke-width="0.2" text-anchor="end">149.527</text>
<path d="M917,234.64999999999998 L926.3,226.1 L975.0,226.1 Q977.5,226.1 977.5,228.6 L977.5,240.7 Q977.5,243.2 975.0,243.2 L926.3,243.2 Z" fill="#6a5fb0"/><text x="973.5" y="239.6" font-size="10.8" fill="#fff" font-weight="bold" text-anchor="end">150.237</text>
<path d="M917,543.05 L926.3,534.5 L962.0,534.5 Q964.5,534.5 964.5,537.0 L964.5,549.1 Q964.5,551.6 962.0,551.6 L926.3,551.6 Z" fill="#000"/><text x="960.5" y="547.5" font-size="10.8" fill="#fff" font-weight="bold" text-anchor="end">38.95</text>
<text x="8.3" y="400" font-size="11" font-weight="bold" fill="#222" textLength="32.4" lengthAdjust="spacingAndGlyphs">VWAP</text>
<text x="44.6" y="400" font-size="11" fill="#222" textLength="41.8" lengthAdjust="spacingAndGlyphs">20 1 2 3</text>
<g transform="translate(98,396)" fill="#a0a0a0"><circle r="4.7"/><rect x="-1.4" y="-6.5" width="2.8" height="3" transform="rotate(0)"/><rect x="-1.4" y="-6.5" width="2.8" height="3" transform="rotate(45)"/><rect x="-1.4" y="-6.5" width="2.8" height="3" transform="rotate(90)"/><rect x="-1.4" y="-6.5" width="2.8" height="3" transform="rotate(135)"/><rect x="-1.4" y="-6.5" width="2.8" height="3" transform="rotate(180)"/><rect x="-1.4" y="-6.5" width="2.8" height="3" transform="rotate(225)"/><rect x="-1.4" y="-6.5" width="2.8" height="3" transform="rotate(270)"/><rect x="-1.4" y="-6.5" width="2.8" height="3" transform="rotate(315)"/><circle r="2" fill="#fff"/></g>
<g transform="translate(117,396)" stroke="#a0a0a0" stroke-width="2.5"><line x1="-4.2" y1="-4.2" x2="4.2" y2="4.2"/><line x1="-4.2" y1="4.2" x2="4.2" y2="-4.2"/></g>
<text x="138" y="400" font-size="11" font-weight="bold" fill="#222" textLength="72.3" lengthAdjust="spacingAndGlyphs">AUTO TREND</text>
<text x="214.3" y="400" font-size="11" fill="#222" textLength="25.5" lengthAdjust="spacingAndGlyphs">3 3 4</text>
<g transform="translate(253,396)" fill="#a0a0a0"><circle r="4.7"/><rect x="-1.4" y="-6.5" width="2.8" height="3" transform="rotate(0)"/><rect x="-1.4" y="-6.5" width="2.8" height="3" transform="rotate(45)"/><rect x="-1.4" y="-6.5" width="2.8" height="3" transform="rotate(90)"/><rect x="-1.4" y="-6.5" width="2.8" height="3" transform="rotate(135)"/><rect x="-1.4" y="-6.5" width="2.8" height="3" transform="rotate(180)"/><rect x="-1.4" y="-6.5" width="2.8" height="3" transform="rotate(225)"/><rect x="-1.4" y="-6.5" width="2.8" height="3" transform="rotate(270)"/><rect x="-1.4" y="-6.5" width="2.8" height="3" transform="rotate(315)"/><circle r="2" fill="#fff"/></g>
<g transform="translate(272,396)" stroke="#a0a0a0" stroke-width="2.5"><line x1="-4.2" y1="-4.2" x2="4.2" y2="4.2"/><line x1="-4.2" y1="4.2" x2="4.2" y2="-4.2"/></g>
<text x="8.3" y="490" font-size="10" font-weight="bold" fill="#222" textLength="16.0" lengthAdjust="spacingAndGlyphs">RSI</text>
<text x="29.4" y="490" font-size="10" fill="#222" textLength="11.9" lengthAdjust="spacingAndGlyphs">14</text>
<g transform="translate(54.1,487)" fill="#a0a0a0"><circle r="4.7"/><rect x="-1.4" y="-6.5" width="2.8" height="3" transform="rotate(0)"/><rect x="-1.4" y="-6.5" width="2.8" height="3" transform="rotate(45)"/><rect x="-1.4" y="-6.5" width="2.8" height="3" transform="rotate(90)"/><rect x="-1.4" y="-6.5" width="2.8" height="3" transform="rotate(135)"/><rect x="-1.4" y="-6.5" width="2.8" height="3" transform="rotate(180)"/><rect x="-1.4" y="-6.5" width="2.8" height="3" transform="rotate(225)"/><rect x="-1.4" y="-6.5" width="2.8" height="3" transform="rotate(270)"/><rect x="-1.4" y="-6.5" width="2.8" height="3" transform="rotate(315)"/><circle r="2" fill="#fff"/></g>
<g transform="translate(73,487)" stroke="#a0a0a0" stroke-width="2.5"><line x1="-4.2" y1="-4.2" x2="4.2" y2="4.2"/><line x1="-4.2" y1="4.2" x2="4.2" y2="-4.2"/></g>
</svg>
</body></html>
